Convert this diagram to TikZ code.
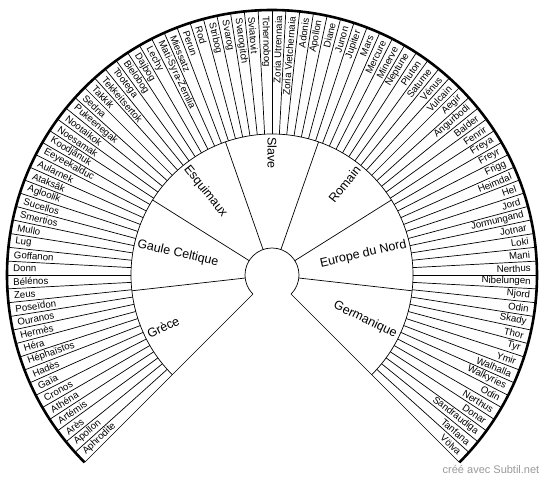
\documentclass[tikz,border=0pt]{standalone}
\usepackage{fontspec}
\setmainfont{Liberation Sans}
\begin{document}
\begin{tikzpicture}[x=1pt,y=1pt,
  spoke/.style={line width=0.7pt},
  rim/.style={line width=2.6pt},
  god/.style={font=\fontsize{9.7}{10}\selectfont, inner sep=0pt},
  family/.style={font=\fontsize{12.5}{13}\selectfont, inner sep=0pt},
  credit/.style={font=\fontsize{11}{12}\selectfont, text=black!40, inner sep=0pt}]
\useasboundingbox (-272,-207) rectangle (278,275);
% rings
\draw[spoke] (225:27) arc[start angle=225, end angle=-45, radius=27pt];
\draw[spoke] (225:141) arc[start angle=225, end angle=-45, radius=141pt];
\draw[rim] (225:265) arc[start angle=225, end angle=-45, radius=265pt];
% fan edges
\draw[spoke] (225:27) -- (225:265);
\draw[spoke] (-45:27) -- (-45:265);
% family boundaries
\foreach \k in {1,...,6}
  \draw[spoke] ({225-\k*270/7}:27) -- ({225-\k*270/7}:141);
% god boundaries
\foreach \k in {1,...,89}
  \draw[spoke] ({225-3*\k}:141) -- ({225-3*\k}:265);
% families
\foreach \name [count=\k from 0] in {Grèce, Gaule Celtique, Esquimaux, Slave}
  \node[family, anchor=west, rotate={225-(\k+0.5)*270/7-180}] (f\k) at ({225-(\k+0.5)*270/7}:138) {\name};
\foreach \name [count=\k from 4] in {Romain, Europe du Nord, Germanique}
  \node[family, anchor=east, rotate={225-(\k+0.5)*270/7}] (f\k) at ({225-(\k+0.5)*270/7}:138) {\name};
% gods, left half
\foreach \name [count=\i from 0] in {Aphrodite, Apollon, Arès, Artémis, Athéna, Cronos, Gaïa, Hadès, Héphaïstos, Héra, Hermès, Ouranos, Poseïdon, Zeus,
  Bélénos, Donn, Goffanon, Lug, Mullo, Smertios, Sucellos,
  Agloolik, Ataksâk, Aularnek, Eeyeekalduc, Koodjânuk, Noesamak, Nootaikok, Pukeenegak, Sedna, Takkik, Tekkeitsertok, Tootega,
  Bielobog, Dajbog, Lechy, Mati-Syra-Zemlia, Miessatz, Perun, Rod, Stribog, Svarog, Svarogitch, Sviatovit, Tchernobog}
  \node[god, anchor=west, rotate={43.5-3*\i}] (g\i) at ({223.5-3*\i}:259) {\name};
% gods, right half
\foreach \name [count=\i from 45] in {Zoria Utrennaia, Zoria Vietchernaia,
  Adonis, Apollon, Diane, Junon, Jupiter, Mars, Mercure, Minerve, Neptune, Pluton, Saturne, Vénus, Vulcain,
  Aegir, Angurbodi, Balder, Fenrir, Freya, Freyr, Frigg, Heimdal, Hel, Jord, Jormungand, Jotnar, Loki, Mani, Nerthus, Nibelungen, Njord, Odin, Skady, Thor, Tyr, Ymir, Walhalla, Walkyries,
  Odin, Nerthus, Donar, Sandraudiga, Tanfana, Völva}
  \node[god, anchor=east, rotate={223.5-3*\i}] (g\i) at ({223.5-3*\i}:259) {\name};
\node[credit] (credit) at (219,-195) {créé avec Subtil.net};
\end{tikzpicture}
\end{document}
